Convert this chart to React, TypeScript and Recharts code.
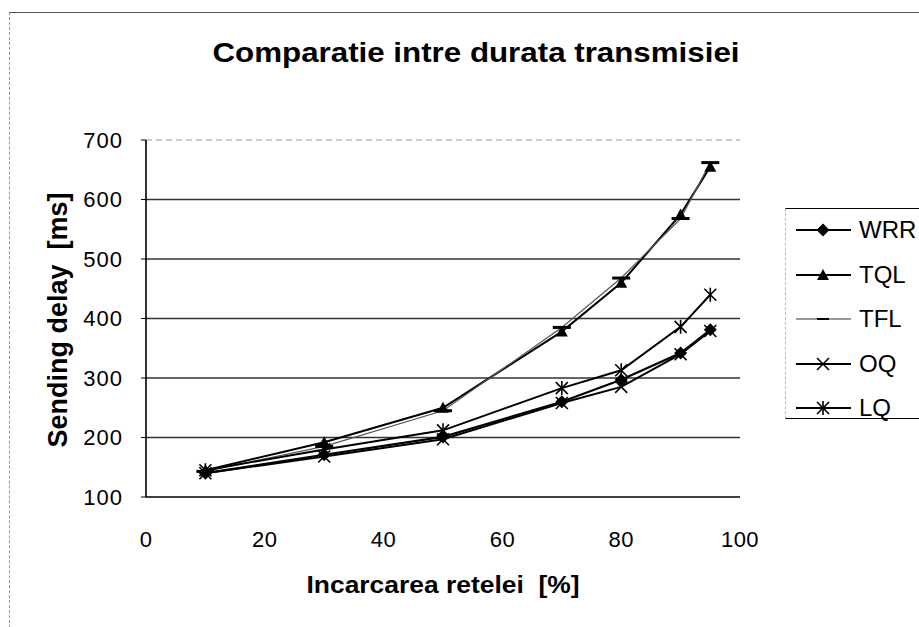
import React from 'react';
import { LineChart, Line, XAxis, YAxis, ReferenceLine } from 'recharts';

// network load [%] and sending delay [ms] per queueing scheme
const loads = [10, 30, 50, 70, 80, 90, 95];
const wrr = [140, 171, 201, 260, 297, 342, 381];
const tql = [145, 192, 250, 378, 460, 575, 655];
const tfl = [143, 185, 245, 385, 468, 568, 662];
const oq = [140, 168, 197, 258, 285, 340, 379];
const lq = [145, 180, 212, 283, 313, 386, 440];

const xTicks = [0, 20, 40, 60, 80, 100];
const yTicks = [100, 200, 300, 400, 500, 600, 700];
const gridValues = [200, 300, 400, 500, 600];

const seriesNames = ['WRR', 'TQL', 'TFL', 'OQ', 'LQ'];

const data = loads.map((load, i) => ({
    load,
    WRR: wrr[i],
    TQL: tql[i],
    TFL: tfl[i],
    OQ: oq[i],
    LQ: lq[i],
}));

const FONT = '"Liberation Sans", Arial, sans-serif';

type MarkerKind = 'diamond' | 'triangle' | 'dash' | 'cross' | 'star';

const drawMarker = (kind: MarkerKind, cx: number, cy: number, key?: any) => {
    if (cx == null || cy == null) return <g key={key} />;
    switch (kind) {
        case 'diamond':
            return <path key={key} d={`M${cx},${cy - 6.5}L${cx + 6.5},${cy}L${cx},${cy + 6.5}L${cx - 6.5},${cy}Z`} fill="#000" />;
        case 'triangle':
            return <path key={key} d={`M${cx},${cy - 6}L${cx + 6},${cy + 5}L${cx - 6},${cy + 5}Z`} fill="#000" />;
        case 'dash':
            return <rect key={key} x={cx - 9} y={cy - 1.5} width={18} height={3} fill="#000" />;
        case 'cross':
            return (
                <g key={key} stroke="#000" strokeWidth={1.6}>
                    <line x1={cx - 6} y1={cy - 6} x2={cx + 6} y2={cy + 6} />
                    <line x1={cx - 6} y1={cy + 6} x2={cx + 6} y2={cy - 6} />
                </g>
            );
        case 'star':
            return (
                <g key={key} stroke="#000" strokeWidth={1.6}>
                    <line x1={cx - 6} y1={cy - 6} x2={cx + 6} y2={cy + 6} />
                    <line x1={cx - 6} y1={cy + 6} x2={cx + 6} y2={cy - 6} />
                    <line x1={cx} y1={cy - 7} x2={cx} y2={cy + 7} />
                </g>
            );
    }
};

const styles: Record<string, { marker: MarkerKind; width: number; color: string }> = {
    WRR: { marker: 'diamond', width: 2.2, color: '#000' },
    TQL: { marker: 'triangle', width: 2, color: '#000' },
    TFL: { marker: 'dash', width: 1.2, color: '#555' },
    OQ: { marker: 'cross', width: 2, color: '#000' },
    LQ: { marker: 'star', width: 2, color: '#000' },
};

const XTick = (props: any) => {
    const { x, y, payload } = props;
    return (
        <text x={x} y={y + 48} textAnchor="middle" fontSize={22} letterSpacing={0.5} fontFamily={FONT} fill="#000">
            {payload.value}
        </text>
    );
};

const YTick = (props: any) => {
    const { x, y, payload } = props;
    return (
        <text x={x} y={y} dy="0.36em" textAnchor="end" fontSize={22} letterSpacing={1} fontFamily={FONT} fill="#000">
            {payload.value}
        </text>
    );
};

const Legendbox = () => (
    <div
        style={{
            position: 'absolute',
            left: 785,
            top: 208,
            width: 200,
            height: 209,
            borderTop: '1.5px solid #000',
            borderBottom: '1.5px solid #000',
            borderLeft: '1px dashed #bbb',
            fontFamily: FONT,
        }}
    >
        {seriesNames.map((name, i) => {
            const s = styles[name];
            const cy = 21 + i * 44.5;
            return (
                <div key={name} style={{ position: 'absolute', left: 0, top: cy - 14, height: 28, display: 'flex', alignItems: 'center' }}>
                    <svg width={70} height={28} style={{ display: 'block' }}>
                        <line x1={10} y1={14} x2={65} y2={14} stroke={name === 'TFL' ? '#333' : '#000'} strokeWidth={name === 'TFL' ? 1.2 : 1.8} />
                        {name === 'TFL'
                            ? <rect x={31} y={13} width={12} height={2} fill="#000" />
                            : drawMarker(s.marker, 37, 14)}
                    </svg>
                    <span style={{ fontSize: 24, color: '#000', marginLeft: 3 }}>{name}</span>
                </div>
            );
        })}
    </div>
);

export default function App() {
    return (
        <div style={{ position: 'absolute', left: 0, top: 0, width: 919, height: 627, background: '#fff', overflow: 'hidden' }}>
            <div style={{ position: 'absolute', left: 9, top: 12, width: 940, height: 640, borderTop: '1.5px solid #555', borderLeft: '1px dashed #999' }} />
            <LineChart width={919} height={627} data={data} margin={{ top: 140, right: 179, left: 86, bottom: 90 }}>
                {gridValues.map((v) => (
                    <ReferenceLine key={v} y={v} stroke="#333" strokeWidth={1.3} />
                ))}
                <ReferenceLine y={700} stroke="#999" strokeDasharray="6 4" />
                <XAxis
                    dataKey="load"
                    type="number"
                    domain={[0, 100]}
                    ticks={xTicks}
                    height={40}
                    tickLine={false}
                    tickSize={0}
                    tick={<XTick />}
                    axisLine={{ stroke: '#000', strokeWidth: 1.6 }}
                />
                <YAxis
                    type="number"
                    domain={[100, 700]}
                    ticks={yTicks}
                    width={60}
                    tickSize={5}
                    tickMargin={18}
                    tick={<YTick />}
                    tickLine={{ stroke: '#000' }}
                    axisLine={{ stroke: '#000', strokeWidth: 1.6 }}
                />
                {seriesNames.map((name) => {
                    const s = styles[name];
                    return (
                        <Line
                            key={name}
                            type="linear"
                            dataKey={name}
                            stroke={s.color}
                            strokeWidth={s.width}
                            dot={(p: any) => drawMarker(s.marker, p.cx, p.cy, `${name}-${p.index}`)}
                            activeDot={false}
                            isAnimationActive={false}
                        />
                    );
                })}
            </LineChart>
            <svg width={919} height={627} style={{ position: 'absolute', left: 0, top: 0, pointerEvents: 'none' }}>
                <text x={476} y={62} textAnchor="middle" fontSize={28} fontWeight="bold" fontFamily={FONT} textLength={527} lengthAdjust="spacingAndGlyphs">
                    Comparatie intre durata transmisiei
                </text>
                <text x={443} y={593} textAnchor="middle" fontSize={24} fontWeight="bold" fontFamily={FONT} textLength={273} lengthAdjust="spacingAndGlyphs">
                    {'Incarcarea retelei \u00a0[%]'}
                </text>
                <text
                    x={67}
                    y={320}
                    transform="rotate(-90 67 320)"
                    textAnchor="middle"
                    fontSize={27}
                    fontWeight="bold"
                    fontFamily={FONT}
                    textLength={255}
                    lengthAdjust="spacingAndGlyphs"
                >
                    {'Sending delay \u00a0[ms]'}
                </text>
            </svg>
            <Legendbox />
        </div>
    );
}
